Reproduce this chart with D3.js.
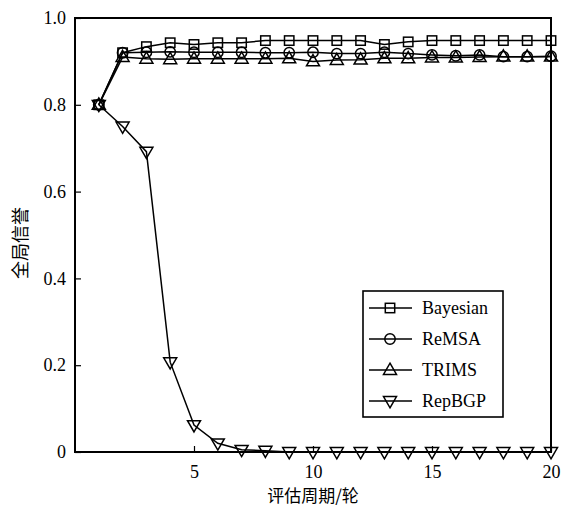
<!DOCTYPE html>
<html lang="zh">
<head>
<meta charset="UTF-8">
<title>全局信誉</title>
<script src="https://d3js.org/d3.v7.min.js"></script>
<style>
  body { margin: 0; background: #fff; }
</style>
</head>
<body>
<div id="chart"></div>
<script>
// 数据
var rounds = d3.range(1, 21);
var bayesian = [0.80,0.92,0.934,0.943,0.939,0.943,0.943,0.948,0.948,0.948,0.948,0.948,0.939,0.945,0.948,0.948,0.948,0.948,0.948,0.948];
var remsa    = [0.80,0.92,0.921,0.922,0.921,0.921,0.921,0.920,0.920,0.921,0.918,0.918,0.921,0.918,0.915,0.913,0.915,0.911,0.911,0.912];
var trims    = [0.80,0.91,0.906,0.905,0.906,0.906,0.906,0.906,0.907,0.900,0.903,0.904,0.907,0.907,0.909,0.909,0.910,0.911,0.911,0.911];
var repbgp   = [0.80,0.75,0.692,0.207,0.062,0.020,0.005,0.003,0.000,0.000,0.000,0.000,0.000,0.000,0.000,0.000,0.000,0.000,0.000,0.000];
var seriesNames = ["Bayesian", "ReMSA", "TRIMS", "RepBGP"];
var xTicks = [5, 10, 15, 20];
var yTicks = [0, 0.2, 0.4, 0.6, 0.8, 1.0];

var serif = '"Liberation Serif", "Times New Roman", Times, serif';
var cjk = '"Noto Sans CJK SC", sans-serif';

var width = 562, height = 507;
var margin = {left: 75, right: 11, top: 18, bottom: 55};

var svg = d3.select('#chart').append('svg')
  .attr('width', width).attr('height', height);

var x = d3.scaleLinear().domain([0, 20]).range([margin.left, width - margin.right]);
var y = d3.scaleLinear().domain([0, 1]).range([height - margin.bottom, margin.top]);

// 坐标轴
var xAxis = d3.axisBottom(x).tickValues(xTicks).tickSizeInner(-6).tickSizeOuter(0).tickPadding(13);
var yAxis = d3.axisLeft(y).tickValues(yTicks).tickSizeInner(-6).tickSizeOuter(0).tickPadding(9)
  .tickFormat(function(d){ return d === 0 ? "0" : d3.format(".1f")(d); });

var gx = svg.append('g').attr('transform', 'translate(0,' + y(0) + ')').call(xAxis);
var gy = svg.append('g').attr('transform', 'translate(' + x(0) + ',0)').call(yAxis);
[gx, gy].forEach(function(g){
  g.attr('font-family', serif).attr('font-size', 18);
  g.select('.domain').remove();
  g.selectAll('.tick line').attr('stroke', '#000').attr('stroke-width', 1.2);
  g.selectAll('.tick text').attr('fill', '#000');
});

// 边框
svg.append('rect')
  .attr('x', x(0)).attr('y', y(1))
  .attr('width', x(20) - x(0)).attr('height', y(0) - y(1))
  .attr('fill', 'none').attr('stroke', '#000').attr('stroke-width', 2);

// 标记
function marker(g, type) {
  if (type === 0) {
    g.append('rect').attr('x', -4.7).attr('y', -4.7).attr('width', 9.4).attr('height', 9.4);
  } else if (type === 1) {
    g.append('circle').attr('r', 5.2);
  } else if (type === 2) {
    g.append('path').attr('d', 'M0,-6.8L6.5,4.4L-6.5,4.4Z');
  } else {
    g.append('path').attr('d', 'M0,6.8L6.5,-4.4L-6.5,-4.4Z');
  }
  g.attr('fill', 'none').attr('stroke', '#000').attr('stroke-width', 1.5);
}

var allSeries = [bayesian, remsa, trims, repbgp];
var line = d3.line().x(function(d, i){ return x(rounds[i]); }).y(function(d){ return y(d); });

allSeries.forEach(function(vals, k) {
  svg.append('path').datum(vals)
    .attr('d', line)
    .attr('fill', 'none').attr('stroke', '#000').attr('stroke-width', 1.5);
  vals.forEach(function(v, i) {
    var g = svg.append('g').attr('transform', 'translate(' + x(rounds[i]) + ',' + y(v) + ')');
    marker(g, k);
  });
});

// 图例
var lg = svg.append('g');
lg.append('rect').attr('x', 363).attr('y', 291).attr('width', 140).attr('height', 126)
  .attr('fill', '#fff').attr('stroke', '#000').attr('stroke-width', 1.6);
seriesNames.forEach(function(name, k) {
  var yy = 308 + k * 31;
  lg.append('line').attr('x1', 369).attr('x2', 412).attr('y1', yy).attr('y2', yy)
    .attr('stroke', '#000').attr('stroke-width', 1.5);
  var g = lg.append('g').attr('transform', 'translate(390,' + yy + ')');
  marker(g, k);
  lg.append('text').attr('x', 422).attr('y', yy + 6).text(name)
    .attr('font-family', serif).attr('font-size', 18).attr('fill', '#000');
});

// 轴标题
svg.append('text')
  .attr('x', (x(0) + x(20)) / 2).attr('y', 502)
  .attr('text-anchor', 'middle')
  .attr('font-family', cjk).attr('font-size', 17).attr('fill', '#000')
  .text('评估周期/轮');
svg.append('text')
  .attr('transform', 'translate(27,243) rotate(-90)')
  .attr('text-anchor', 'middle')
  .attr('font-family', cjk).attr('font-size', 18).attr('fill', '#000')
  .text('全局信誉');
</script>
</body>
</html>
